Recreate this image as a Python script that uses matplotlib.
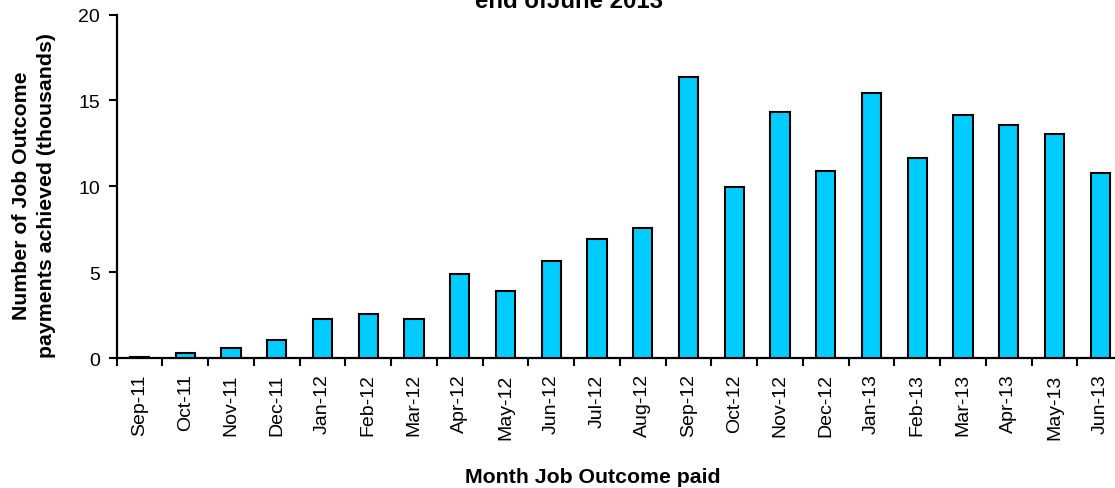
import matplotlib.pyplot as plt
import numpy as np

plt.rcParams['font.family'] = ['Liberation Sans', 'DejaVu Sans']

months = ['Sep-11', 'Oct-11', 'Nov-11', 'Dec-11', 'Jan-12', 'Feb-12', 'Mar-12', 'Apr-12',
          'May-12', 'Jun-12', 'Jul-12', 'Aug-12', 'Sep-12', 'Oct-12', 'Nov-12', 'Dec-12',
          'Jan-13', 'Feb-13', 'Mar-13', 'Apr-13', 'May-13', 'Jun-13']
payments = [0.05, 0.31, 0.6, 1.07, 2.25, 2.56, 2.27, 4.89, 3.92, 5.67, 6.93, 7.59,
            16.38, 9.96, 14.33, 10.89, 15.41, 11.67, 14.15, 13.59, 13.05, 10.79]

fig = plt.figure(figsize=(11.15, 4.89), dpi=100)
ax = fig.add_axes([0.1047, 0.2658, 0.9025, 0.7022])

x = np.arange(len(months))
ax.bar(x, payments, width=0.42, color='#00CCFF', edgecolor='black', linewidth=1.5, zorder=3)

ax.set_xlim(-0.5, len(months) - 0.5)
ax.set_ylim(0, 20)
ax.set_yticks([0, 5, 10, 15, 20])

# ticks between categories, labels at the centres
ax.set_xticks(np.arange(len(months) + 1) - 0.5)
ax.set_xticklabels([])
ax.set_xticks(x, minor=True)
ax.set_xticklabels(months, minor=True, rotation=90)
ax.tick_params(axis='x', which='major', direction='out', length=5.5, width=1.5)
ax.tick_params(axis='x', which='minor', length=0, pad=11, labelsize=14)
ax.tick_params(axis='y', direction='out', length=6, width=1.5, labelsize=14, pad=6)

for s in ['top', 'right']:
    ax.spines[s].set_visible(False)
for s in ['left', 'bottom']:
    ax.spines[s].set_linewidth(1.6)

fig.text(593 / 1115, 1 - 483 / 489, 'Month Job Outcome paid', ha='center', va='baseline',
         fontsize=15.3, fontweight='bold')
fig.text(34 / 1115, 1 - 196 / 489, 'Number of Job Outcome\npayments achieved (thousands)',
         rotation=90, ha='center', va='center', fontsize=15.3, fontweight='bold',
         linespacing=1.4)
# title sits partly above the top edge, as in the original
fig.text(569 / 1115, 1 - 8 / 489, 'end ofJune 2013', ha='center', va='baseline',
         fontsize=17.3, fontweight='bold')

fig.savefig('out.png', dpi=100)
